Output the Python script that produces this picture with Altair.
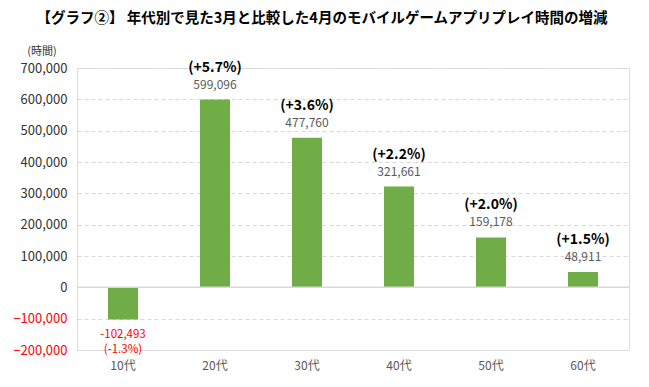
import altair as alt
import pandas as pd

categories = ["10代", "20代", "30代", "40代", "50代", "60代"]
values = [-102493, 599096, 477760, 321661, 159178, 48911]
pct_labels = ["(-1.3%)", "(+5.7%)", "(+3.6%)", "(+2.2%)", "(+2.0%)", "(+1.5%)"]
y_ticks = [-200000, -100000, 0, 100000, 200000, 300000, 400000, 500000, 600000, 700000]

df = pd.DataFrame({"cat": categories, "val": values, "pct": pct_labels})
df["vlabel"] = df["val"].map(lambda v: f"{v:,}")

FONT = "Noto Sans CJK JP"

x = alt.X("cat:N", sort=categories, title=None,
          scale=alt.Scale(paddingInner=0, paddingOuter=0),
          axis=alt.Axis(labelAngle=0, domain=False, ticks=False, labelPadding=10,
                        labelFontSize=12, labelColor="#595959", labelFont=FONT, grid=False))
y = alt.Y("val:Q", title=None,
          scale=alt.Scale(domain=[-200000, 700000], nice=False, zero=False),
          axis=alt.Axis(values=y_ticks, format=",.0f", domain=False, ticks=False, labelPadding=10,
                        labelFontSize=13, labelFont=FONT,
                        labelColor=alt.condition("datum.value < 0", alt.value("#FF0000"), alt.value("#333333")),
                        grid=True, gridDash=[4, 3], gridColor="#D9D9D9"))

base = alt.Chart(df)

bars = base.mark_bar(color="#70AD47", size=30).encode(x=x, y=y)

zero = alt.Chart(pd.DataFrame({"val": [0]})).mark_rule(
    color="#D9D9D9", strokeWidth=1.5).encode(y=y)

pos = base.transform_filter("datum.val >= 0")
neg = base.transform_filter("datum.val < 0")

pos_val = pos.mark_text(font=FONT, fontSize=12, color="#595959", dy=-15, baseline="middle").encode(
    x=x, y=y, text="vlabel:N")
pos_pct = pos.mark_text(font=FONT, fontSize=14, fontWeight="bold", color="#000000", dy=-32, baseline="middle").encode(
    x=x, y=y, text="pct:N")
neg_val = neg.mark_text(font=FONT, fontSize=11.5, color="#FF0000", dy=16, baseline="middle").encode(
    x=x, y=y, text="vlabel:N")
neg_pct = neg.mark_text(font=FONT, fontSize=11.5, color="#FF0000", dy=31, baseline="middle").encode(
    x=x, y=y, text="pct:N")

title = alt.Chart(pd.DataFrame({"t": ["【グラフ②】 年代別で見た3月と比較した4月のモバイルゲームアプリプレイ時間の増減"]})).mark_text(
    font=FONT, fontSize=14.5, fontWeight="bold", color="#000000", align="center", baseline="middle").encode(
    x=alt.value(245), y=alt.value(-49), text="t:N")
unit = alt.Chart(pd.DataFrame({"t": ["(時間)"]})).mark_text(
    font=FONT, fontSize=11, color="#333333", align="center", baseline="middle").encode(
    x=alt.value(-35), y=alt.value(-16), text="t:N")

chart = alt.layer(bars, zero, pos_val, pos_pct, neg_val, neg_pct, title, unit).properties(
    width=552, height=282,
    autosize=alt.AutoSizeParams(type="none"),
    padding={"left": 69, "top": 60, "right": 4, "bottom": 24},
).configure_view(stroke=None).configure_axisX(grid=False, domain=False).configure(background="white")

chart.save("out.html", embed_options={"renderer": "svg", "actions": False})
